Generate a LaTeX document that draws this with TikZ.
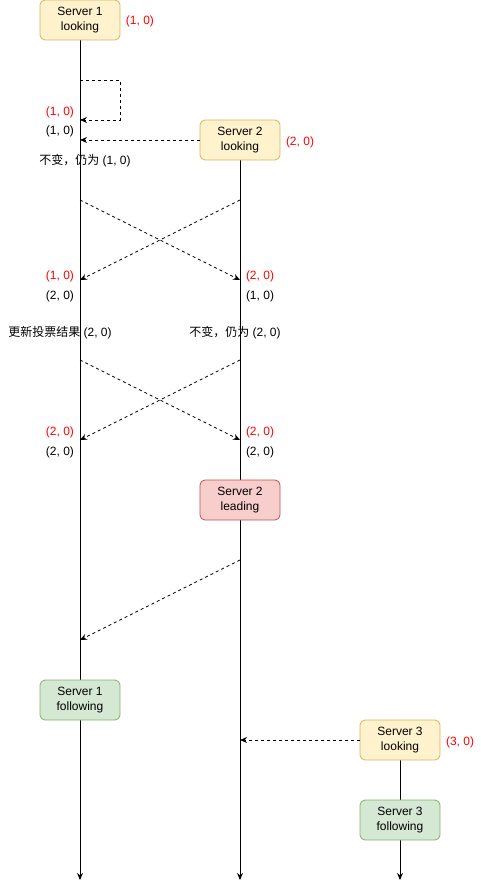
\documentclass[tikz,border=0pt]{standalone}
\usepackage{fontspec}
\setmainfont{Liberation Sans}
\newfontfamily\cjk{Noto Sans CJK SC}
\usetikzlibrary{arrows.meta}
\definecolor{ylwfill}{HTML}{FFF2CC}
\definecolor{ylwdraw}{HTML}{D6B656}
\definecolor{redfill}{HTML}{F8CECC}
\definecolor{reddraw}{HTML}{B85450}
\definecolor{grnfill}{HTML}{D5E8D4}
\definecolor{grndraw}{HTML}{82B366}
\definecolor{vred}{HTML}{FF0000}
\tikzset{
  box/.style={rounded corners=5pt, minimum width=80pt, minimum height=40pt, inner sep=0pt, align=center, font=\fontsize{12}{14.4}\selectfont, line width=0.8pt},
  looking/.style={box, draw=ylwdraw, fill=ylwfill},
  leading/.style={box, draw=reddraw, fill=redfill},
  following/.style={box, draw=grndraw, fill=grnfill},
  life/.style={line width=1pt, -{Stealth[length=7pt,width=6pt]}},
  msg/.style={line width=0.8pt, dash pattern=on 3pt off 3pt, -{Stealth[length=7pt,width=6pt]}},
  lbl/.style={font=\fontsize{12}{14}\selectfont, inner sep=0pt, yshift=-1.5pt},
  rlbl/.style={lbl, text=vred},
}
\begin{document}
\begin{tikzpicture}[x=1pt,y=-1pt]
\useasboundingbox (0,0) rectangle (481,890);
% lifeline coordinates
\coordinate (e1) at (80,880);
\coordinate (e2) at (240,880);
\coordinate (e3) at (400,880);
% lifelines
\draw[life] (80,40) coordinate (s1b) -- (e1);
\draw[life] (240,160) coordinate (s2b) -- (e2);
\draw[life] (400,760) coordinate (s3b) -- (e3);
% nodes
\node[looking] (s1) at (80,20) {Server 1\\looking};
\node[looking] (s2) at (240,140) {Server 2\\looking};
\node[leading] (s2l) at (240,500) {Server 2\\leading};
\node[following] (s1f) at (80,700) {Server 1\\following};
\node[looking] (s3) at (400,740) {Server 3\\looking};
\node[following] (s3f) at (400,820) {Server 3\\following};
% labels
\node[rlbl] (l1) at (140,20) {(1, 0)};
\node[rlbl] (l2) at (300,141) {(2, 0)};
\node[rlbl] (l3) at (460,741) {(3, 0)};
\node[rlbl] (a1) at (60,111) {(1, 0)};
\node[lbl] (a2) at (60,130) {(1, 0)};
\node[lbl] (a3) at (85,159) {{\cjk 不变，仍为} (1, 0)};
\node[rlbl] (b1) at (60,275) {(1, 0)};
\node[lbl] (b2) at (60,295) {(2, 0)};
\node[rlbl] (b3) at (260,275) {(2, 0)};
\node[lbl] (b4) at (260,295) {(1, 0)};
\node[lbl] (b5) at (60,331) {{\cjk 更新投票结果} (2, 0)};
\node[lbl] (b6) at (235,331) {{\cjk 不变，仍为} (2, 0)};
\node[rlbl] (c1) at (60,431) {(2, 0)};
\node[lbl] (c2) at (60,451) {(2, 0)};
\node[rlbl] (c3) at (260,431) {(2, 0)};
\node[lbl] (c4) at (260,451) {(2, 0)};
% message coordinates
\coordinate (p1) at (80,80);
\coordinate (p2) at (80,120);
\coordinate (p3) at (80,140);
\coordinate (q1) at (80,200);
\coordinate (q2) at (240,200);
\coordinate (q3) at (80,280);
\coordinate (q4) at (240,280);
\coordinate (r1) at (80,360);
\coordinate (r2) at (240,360);
\coordinate (r3) at (80,440);
\coordinate (r4) at (240,440);
\coordinate (t1) at (240,560);
\coordinate (t2) at (80,640);
\coordinate (u1) at (240,740);
% messages
\draw[msg] (p1) -- ++(40,0) -- ++(0,40) -- (p2);
\draw[msg] (s2.west) -- (p3);
\draw[msg] (q1) -- (q4);
\draw[msg] (q2) -- (q3);
\draw[msg] (r1) -- (r4);
\draw[msg] (r2) -- (r3);
\draw[msg] (t1) -- (t2);
\draw[msg] (s3.west) -- (u1);
\end{tikzpicture}
\end{document}
